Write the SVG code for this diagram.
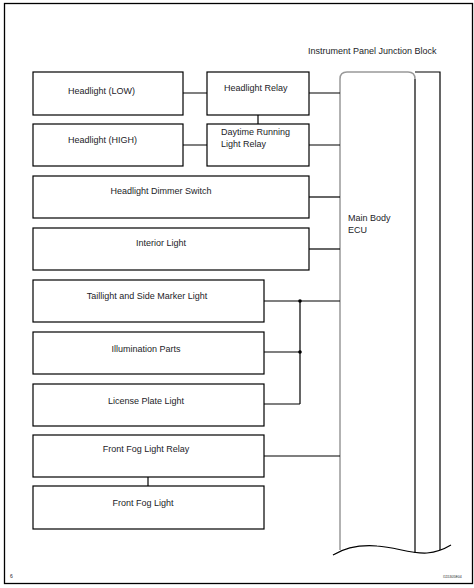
<svg xmlns="http://www.w3.org/2000/svg" width="474" height="588" viewBox="0 0 474 588">
<style>
.box{fill:#fff;stroke:#000;stroke-width:1.2}
.ln{fill:none;stroke:#000;stroke-width:1.2}
text{font-family:"Liberation Sans",Arial,sans-serif;font-size:9px;fill:#1c1c28}
.c{text-anchor:middle}
</style>
<rect width="474" height="588" fill="#fff"/>
<rect x="4.5" y="3.5" width="468" height="580" fill="none" stroke="#000" stroke-width="1.3"/>

<g id="junction-block">
<text x="308" y="54">Instrument Panel Junction Block</text>
<path d="M415,72 H440 V550" class="ln"/>
</g>
<g id="main-body-ecu">
<path d="M340,550 V79 Q340,72 347,72 H408 Q415,72 415,79" fill="none" stroke="#999" stroke-width="1.5"/>
<path d="M415,79 V553" class="ln"/>
<path d="M333,555 C348,546 364,545 377,546 C396,547 410,554 427,553 C438,552 446,548 451,545" class="ln"/>
<text x="348" y="221">Main Body</text>
<text x="348" y="233">ECU</text>
</g>

<g id="connectors">
<path class="ln" d="M183,93 H207 M309,93 H340"/>
<path class="ln" d="M258,115 V124"/>
<path class="ln" d="M183,145 H207 M309,145 H340"/>
<path class="ln" d="M309,197 H340"/>
<path class="ln" d="M309,249 H340"/>
<path class="ln" d="M264,301 H340 M264,352 H300 M264,404 H300 M300,301 V404"/>
<circle cx="300" cy="301" r="1.8" fill="#000"/>
<circle cx="300" cy="352" r="1.8" fill="#000"/>
<path class="ln" d="M264,456 H340"/>
<path class="ln" d="M148,477 V486"/>
</g>

<g id="headlight-low"><rect class="box" x="33" y="72" width="150" height="43"/><text x="68" y="94">Headlight (LOW)</text></g>
<g id="headlight-relay"><rect class="box" x="207" y="72" width="102" height="43"/><text x="224" y="91">Headlight Relay</text></g>
<g id="headlight-high"><rect class="box" x="33" y="124" width="150" height="42"/><text x="68" y="143">Headlight (HIGH)</text></g>
<g id="drl-relay"><rect class="box" x="207" y="124" width="102" height="42"/><text x="221" y="135">Daytime Running</text><text x="221" y="147">Light Relay</text></g>
<g id="dimmer-switch"><rect class="box" x="33" y="176" width="276" height="42"/><text class="c" x="161" y="194">Headlight Dimmer Switch</text></g>
<g id="interior-light"><rect class="box" x="33" y="228" width="276" height="42"/><text class="c" x="161" y="246">Interior Light</text></g>
<g id="taillight"><rect class="box" x="33" y="280" width="231" height="42"/><text class="c" x="147" y="299">Taillight and Side Marker Light</text></g>
<g id="illumination"><rect class="box" x="33" y="332" width="231" height="42"/><text class="c" x="146" y="352">Illumination Parts</text></g>
<g id="license-plate"><rect class="box" x="33" y="384" width="231" height="42"/><text class="c" x="146" y="404">License Plate Light</text></g>
<g id="fog-relay"><rect class="box" x="33" y="435" width="231" height="42"/><text class="c" x="146" y="452">Front Fog Light Relay</text></g>
<g id="fog-light"><rect class="box" x="33" y="486" width="231" height="43"/><text class="c" x="143" y="506">Front Fog Light</text></g>

<text x="10" y="578" style="font-size:5px">6</text>
<text x="443" y="578" style="font-size:3.5px">I115305E04</text>
</svg>
